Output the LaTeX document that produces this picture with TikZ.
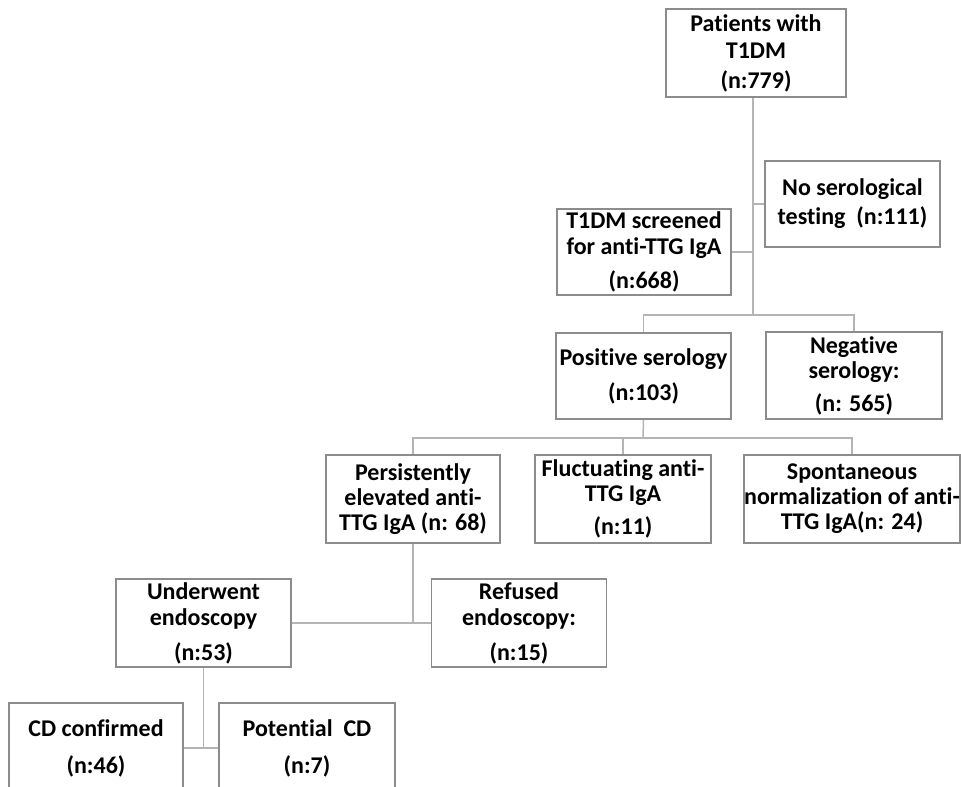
\documentclass[tikz,border=0pt]{standalone}
\usepackage{fontspec}
\setmainfont{Carlito}[Ligatures=NoCommon]
\begin{document}
\begin{tikzpicture}[x=1pt,y=-1pt,
  box/.style={draw=boxgray,line width=1.8pt,fill=white,inner sep=0pt,align=center,
    font=\bfseries\fontsize{24}{25}\selectfont},
  conn/.style={draw=linegray,line width=1.5pt}]
\definecolor{boxgray}{HTML}{8C8C8C}
\definecolor{linegray}{HTML}{B4B4B4}
\useasboundingbox (0,0) rectangle (961,787);
\clip (0,0) rectangle (961,787);
% boxes
\node[box,minimum width=180pt,minimum height=88pt] (p) at (756,53) {Patients with\\[2pt]T1DM\\[5pt](n:779)};
\node[box,minimum width=175pt,minimum height=86pt] (noser) at (852.5,204) {No serological\\[4pt]testing\ \ (n:111)};
\node[box,minimum width=174pt,minimum height=86pt] (scr) at (644,252) {T1DM screened\\[1pt]for anti-TTG IgA\\[9pt](n:668)};
\node[box,minimum width=175pt,minimum height=86pt] (pos) at (643.5,376) {Positive serology\\[10pt](n:103)};
\node[box,minimum width=176pt,minimum height=87pt] (neg) at (854,375.5) {Negative\\serology:\\[8pt](n: 565)};
\node[box,minimum width=174pt,minimum height=88pt] (pers) at (413,499) {Persistently\\elevated anti-\\TTG IgA (n: 68)};
\node[box,minimum width=176pt,minimum height=88pt] (fluct) at (623,499) {Fluctuating anti-\\TTG IgA\\[8pt](n:11)};
\node[box,minimum width=212pt,minimum height=88pt] (spont) at (852,499) {Spontaneous\\normalization of anti-\\TTG IgA(n: 24)};
\node[box,minimum width=175pt,minimum height=88pt] (under) at (203.5,623) {Underwent\\[1pt]endoscopy\\[10pt](n:53)};
\node[box,minimum width=175pt,minimum height=88pt] (ref) at (519,623) {Refused\\[1pt]endoscopy:\\[10pt](n:15)};
\node[box,minimum width=174pt,minimum height=90pt] (cdc) at (96,748) {CD confirmed\\[12pt](n:46)};
\node[box,minimum width=176pt,minimum height=90pt] (pot) at (307,748) {Potential\ \ CD\\[12pt](n:7)};
% junctions
\coordinate (j1) at (753,315);
\coordinate (j2) at (643,438);
\coordinate (j3) at (413,623);
\coordinate (j4) at (203.5,747);
% connectors
\draw[conn] (p.south -| j1) -- (j1);
\draw[conn] (noser.west) -- (noser.west -| j1);
\draw[conn] (scr.east) -- (scr.east -| j1);
\draw[conn] (pos.north) -- (pos.north |- j1) -| (neg.north);
\draw[conn] (pos.south) -- (j2);
\draw[conn] (pers.north) -- (pers.north |- j2) -| (spont.north);
\draw[conn] (fluct.north) -- (fluct.north |- j2);
\draw[conn] (pers.south) -- (j3);
\draw[conn] (under.east) -- (ref.west);
\draw[conn] (under.south) -- (j4);
\draw[conn] (cdc.east) -- (pot.west);
\end{tikzpicture}
\end{document}
